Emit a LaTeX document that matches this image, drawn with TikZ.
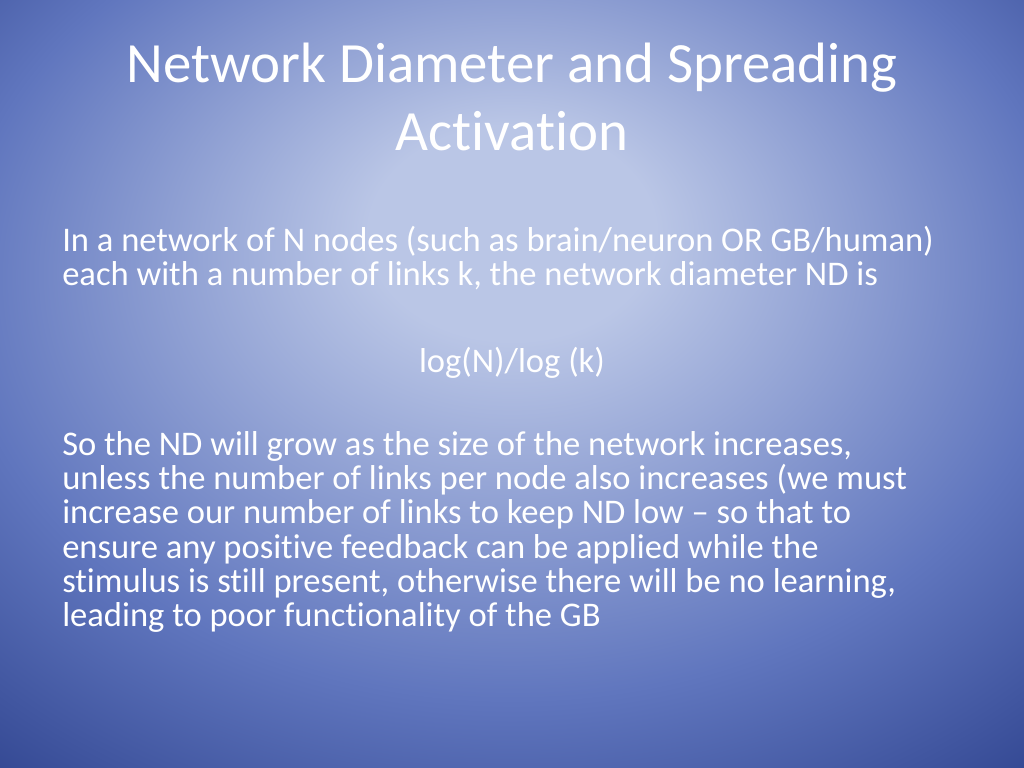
\documentclass[tikz,border=0pt]{standalone}
\usepackage{fontspec}
\setmainfont{Carlito}[Ligatures={NoCommon}]
\definecolor{bgin}{RGB}{186,198,230}
\definecolor{bgmid}{RGB}{96,118,190}
\definecolor{bgout}{RGB}{34,54,130}
\definecolor{bgcorner}{RGB}{14,28,90}
\pgfdeclareradialshading{slideshade}{\pgfpoint{0bp}{11bp}}{color(0bp)=(bgin); color(7bp)=(bgin); color(27bp)=(bgmid); color(44bp)=(bgout); color(66bp)=(bgcorner)}
\tikzset{
  titletext/.style={font=\fontsize{40}{48}\selectfont, text=white, align=center},
  bodytext/.style={font=\fontsize{24.3}{24}\selectfont, text=white, align=left, anchor=west, inner sep=0pt}
}
\begin{document}
\begin{tikzpicture}[x=0.703125pt,y=-0.703125pt]
  \shade[shading=slideshade] (0,0) rectangle (1024,768);
  \useasboundingbox (0,0) rectangle (1024,768);
  \node[titletext] (title) at (512,97) {Network Diameter and Spreading\\Activation};
  \node[bodytext] (intro) at (62,258) {In a network of N nodes (such as brain/neuron OR GB/human)\\each with a number of links k, the network diameter ND is};
  \node[bodytext, anchor=center] (formula) at (512,363) {log(N)/log (k)};
  \node[bodytext] (growth) at (62,532) {So the ND will grow as the size of the network increases,\\unless the number of links per node also increases (we must\\increase our number of links to keep ND low -- so that to\\ensure any positive feedback can be applied while the\\stimulus is still present, otherwise there will be no learning,\\leading to poor functionality of the GB};
\end{tikzpicture}
\end{document}
